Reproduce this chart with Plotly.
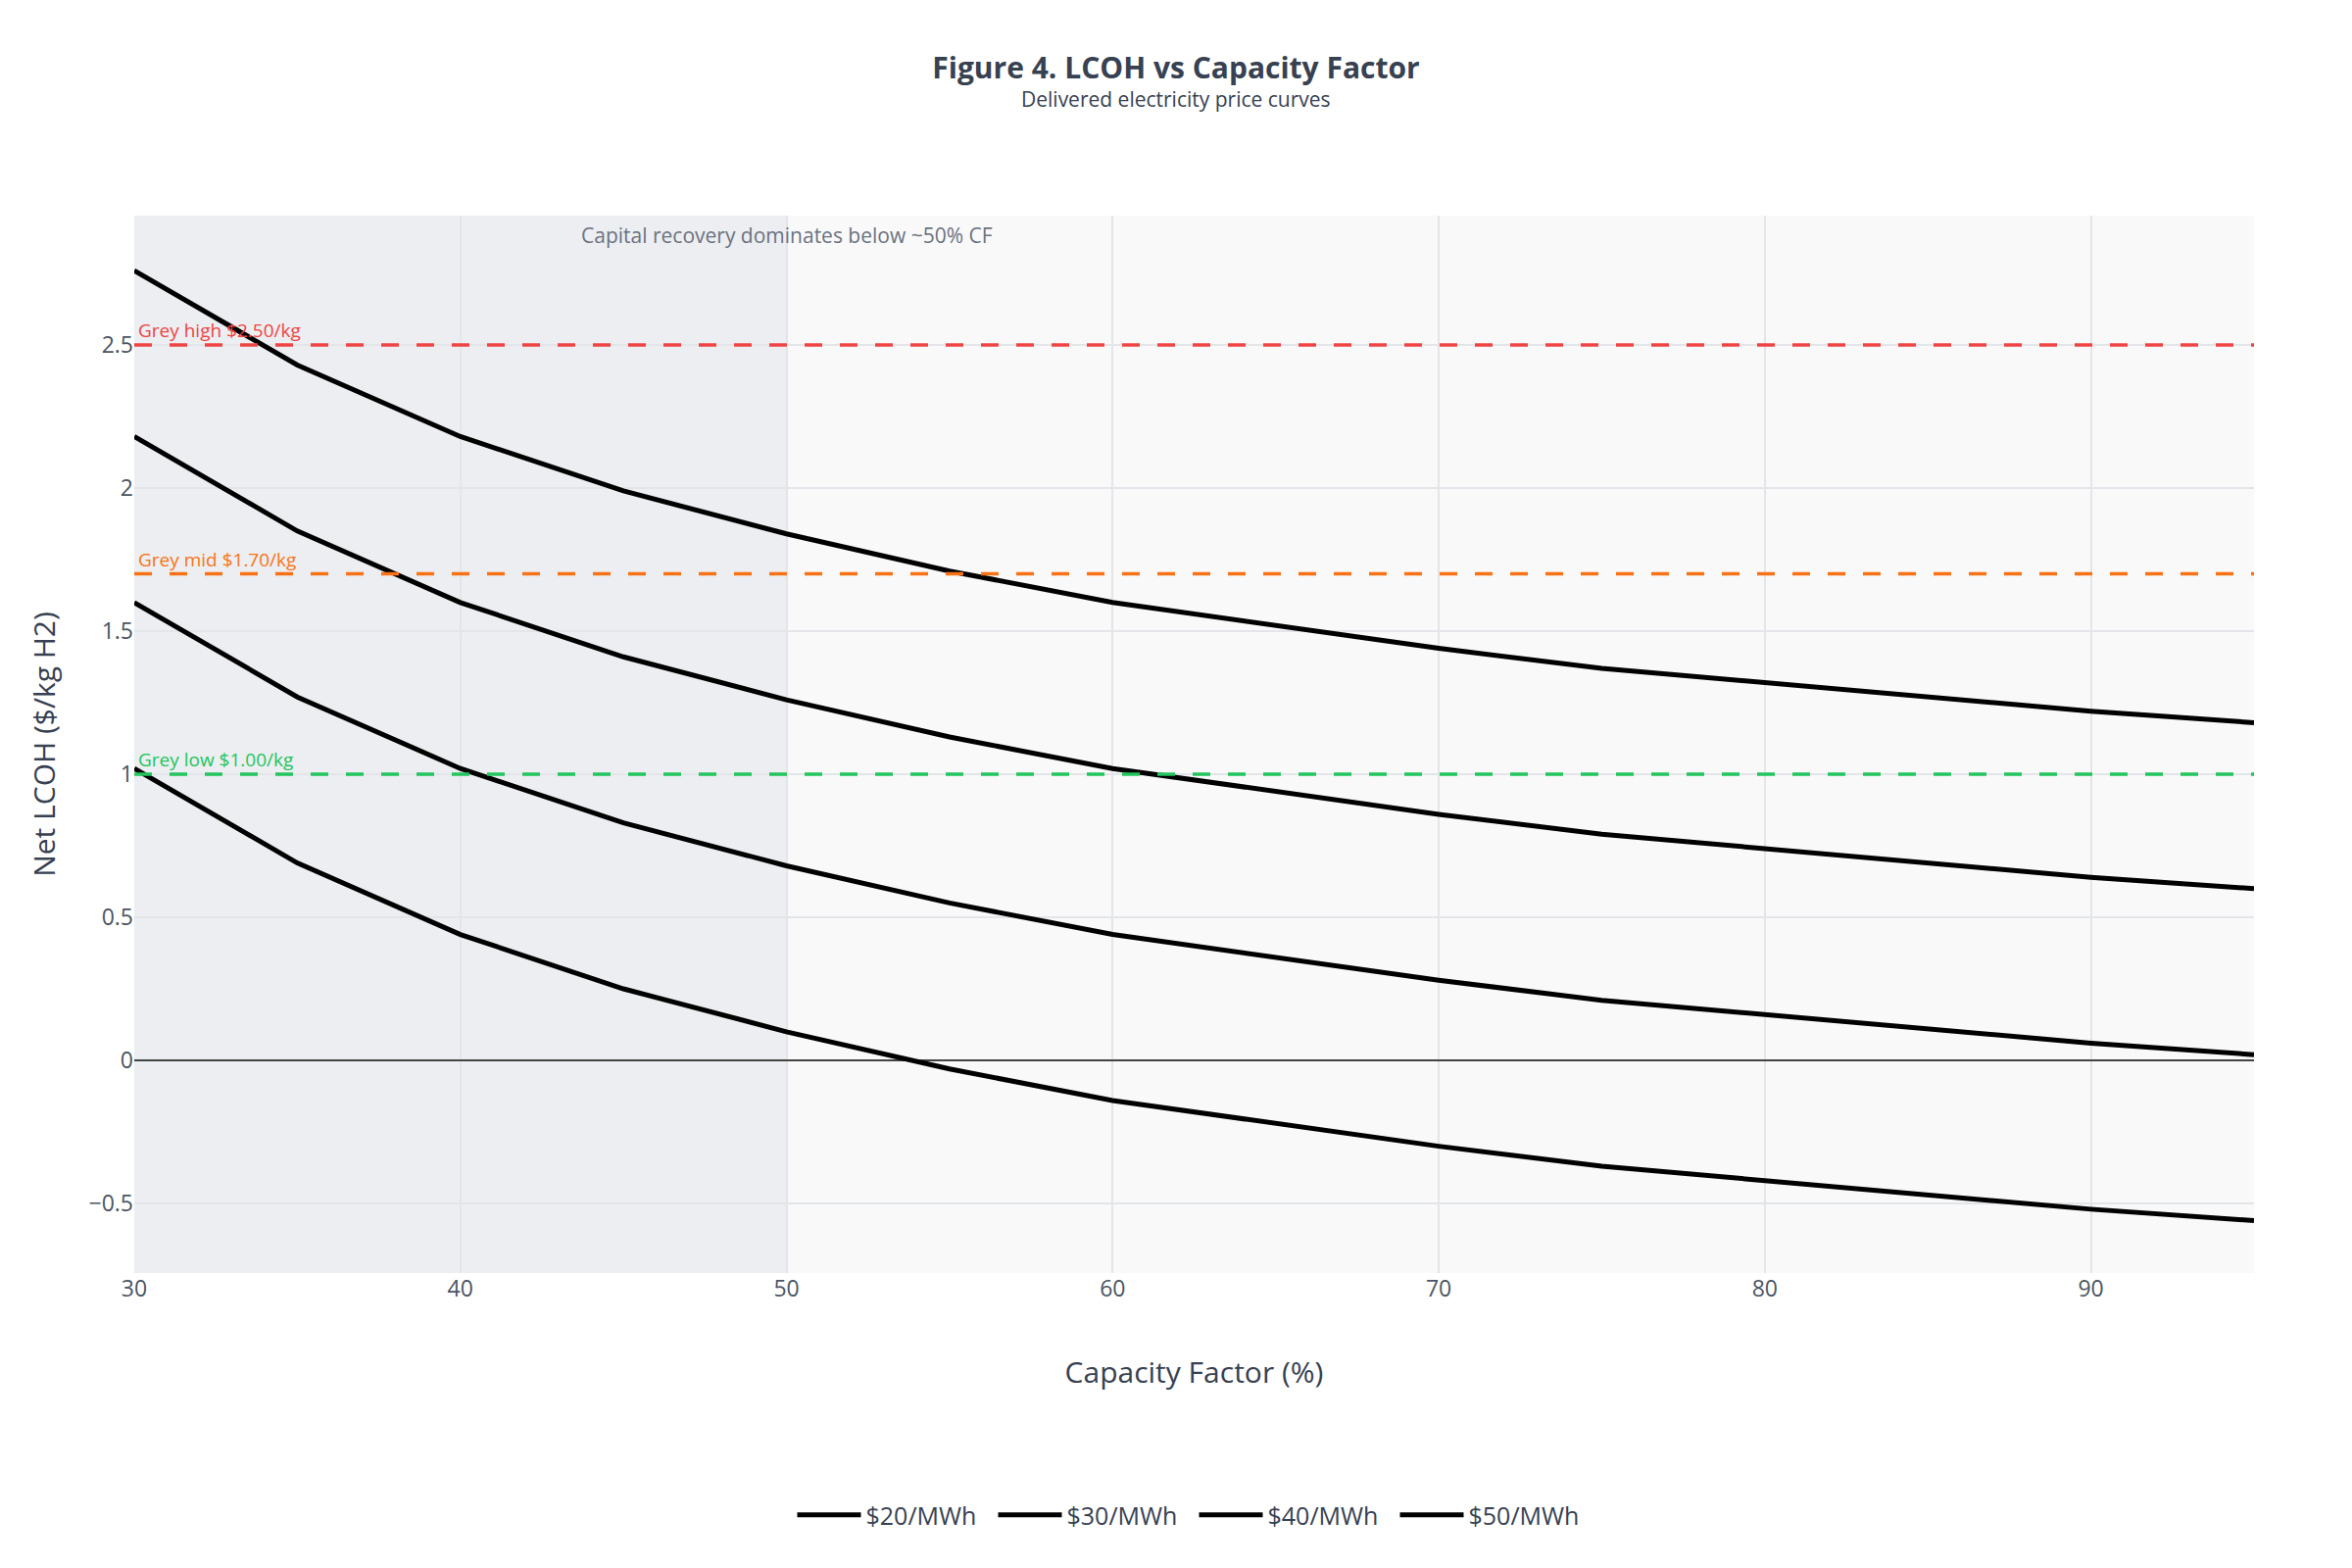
import plotly.graph_objects as go

capacity_factor = [30, 35, 40, 45, 50, 55, 60, 65, 70, 75, 80, 85, 90, 95]
series_names = ["$20/MWh", "$30/MWh", "$40/MWh", "$50/MWh"]
lcoh_20 = [1.02, 0.69, 0.44, 0.25, 0.10, -0.03, -0.14, -0.22, -0.30, -0.37, -0.42, -0.47, -0.52, -0.56]
lcoh_30 = [1.60, 1.27, 1.02, 0.83, 0.68, 0.55, 0.44, 0.36, 0.28, 0.21, 0.16, 0.11, 0.06, 0.02]
lcoh_40 = [2.18, 1.85, 1.60, 1.41, 1.26, 1.13, 1.02, 0.94, 0.86, 0.79, 0.74, 0.69, 0.64, 0.60]
lcoh_50 = [2.76, 2.43, 2.18, 1.99, 1.84, 1.71, 1.60, 1.52, 1.44, 1.37, 1.32, 1.27, 1.22, 1.18]
series_values = [lcoh_20, lcoh_30, lcoh_40, lcoh_50]

grey_labels = ["Grey high $2.50/kg", "Grey mid $1.70/kg", "Grey low $1.00/kg"]
grey_values = [2.50, 1.70, 1.00]
grey_colors = ["#ef4444", "#f97316", "#22c55e"]

shade_range = [30, 50]
shade_text = "Capital recovery dominates below ~50% CF"

FONT = "Open Sans, Noto Sans, sans-serif"

fig = go.Figure()

for name, vals in zip(series_names, series_values):
    fig.add_trace(go.Scatter(
        x=capacity_factor, y=vals, mode="lines", name=name,
        line=dict(color="#000000", width=5),
    ))

fig.add_vrect(x0=shade_range[0], x1=shade_range[1], fillcolor="#eceef1",
              line_width=0, layer="below")

for lab, val, col in zip(grey_labels, grey_values, grey_colors):
    fig.add_hline(y=val, line=dict(color=col, width=3.5, dash="18px,18px"))
    fig.add_annotation(x=0, xref="paper", y=val, yref="y", text=lab,
                       showarrow=False, xanchor="left", yanchor="bottom",
                       xshift=2, font=dict(size=19, color=col, family=FONT))

fig.add_annotation(x=shade_range[1], xref="x", y=1, yref="paper", text=shade_text,
                   showarrow=False, xanchor="center", yanchor="top", yshift=-4,
                   font=dict(size=21, color="#6b7280", family=FONT))

fig.add_annotation(x=(1200 - 137) / 2163, xref="paper", y=1 + (220 - 101) / 1079, yref="paper",
                   text="Delivered electricity price curves", showarrow=False,
                   xanchor="center", yanchor="middle",
                   font=dict(size=21, color="#374151", family=FONT))

fig.update_layout(
    width=2400, height=1600,
    paper_bgcolor="#ffffff", plot_bgcolor="#f9f9f9",
    margin=dict(l=137, r=100, t=220, b=301),
    font=dict(family=FONT, color="#4b5563", size=23),
    title=dict(text="<b>Figure 4. LCOH vs Capacity Factor</b>", x=0.5, xanchor="center",
               y=1 - 69 / 1600, yanchor="middle",
               font=dict(size=30, color="#374151", family=FONT)),
    xaxis=dict(title=dict(text="Capacity Factor (%)", font=dict(size=30, color="#374151"),
                          standoff=60),
               range=[30, 95], dtick=10, showgrid=True, gridcolor="#e3e5e9", gridwidth=1.5,
               zeroline=False, tickfont=dict(size=23, color="#4b5563"), ticks=""),
    yaxis=dict(title=dict(text="Net LCOH ($/kg H2)", font=dict(size=30, color="#374151"),
                          standoff=25),
               range=[-0.743, 2.952], dtick=0.5, showgrid=True, gridcolor="#e3e5e9", gridwidth=1.5,
               zeroline=True, zerolinecolor="#444444", zerolinewidth=1.5,
               tickfont=dict(size=23, color="#4b5563"), ticks=""),
    legend=dict(orientation="h", x=0.5, xanchor="center", y=-(1546 - 1299) / 1079,
                yanchor="middle", font=dict(size=25, color="#374151"),
                entrywidth=125, itemwidth=65,
                bgcolor="rgba(0,0,0,0)"),
    showlegend=True,
)

fig.write_html("out.html")
